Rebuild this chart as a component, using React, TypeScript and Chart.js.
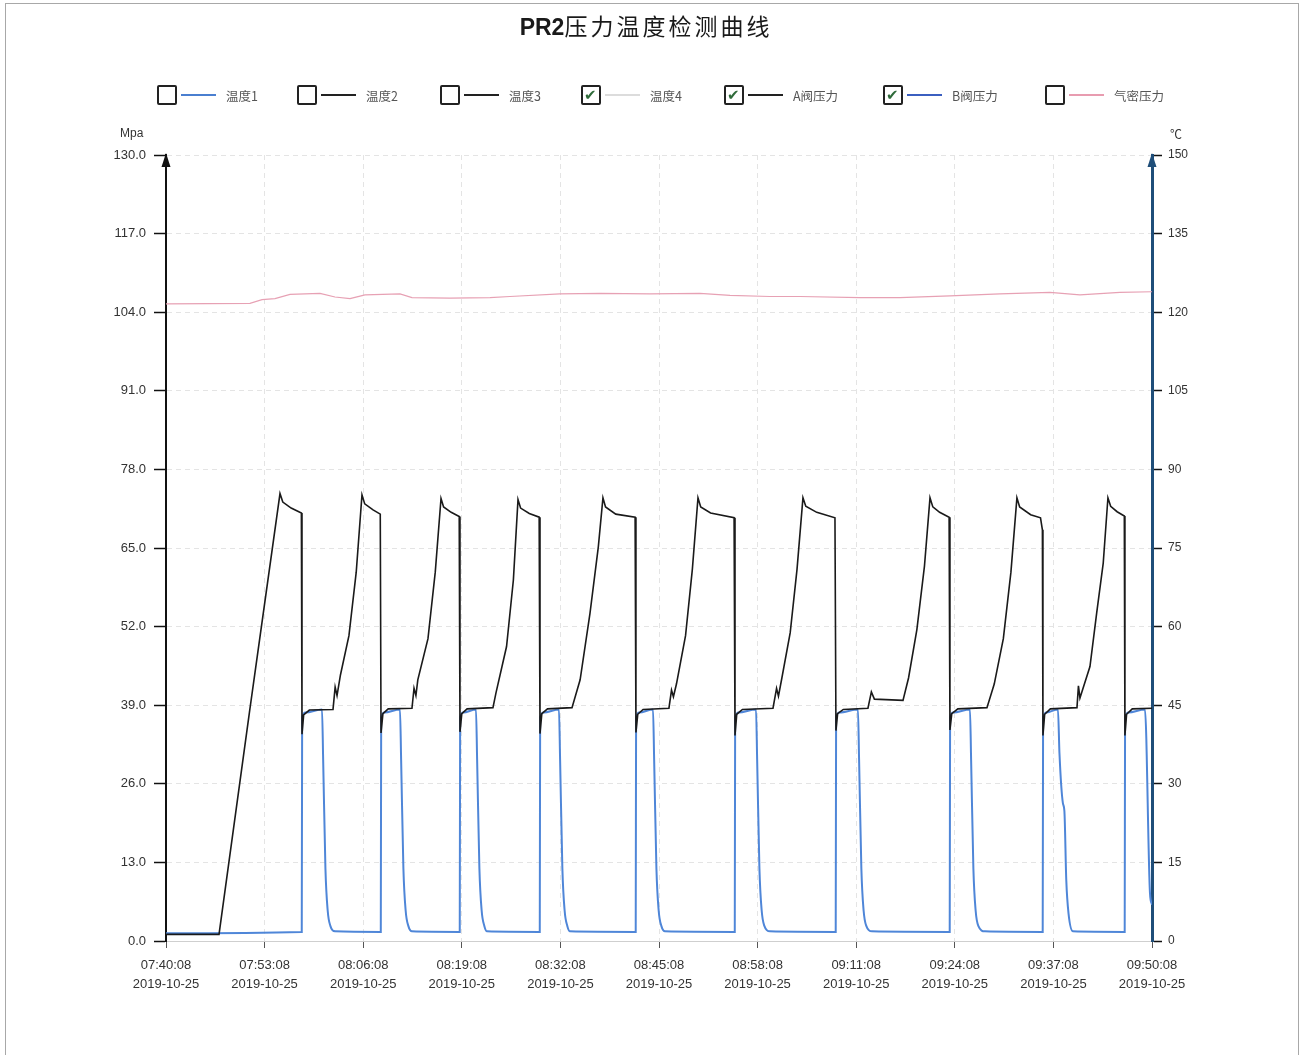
import React, { useEffect, useRef } from "react";
import { Chart, registerables } from "chart.js";

Chart.register(...registerables);

// ---------- DATA ----------
const chartTitle = "PR2压力温度检测曲线";
const startClock = "07:40:08";
const dateLabel = "2019-10-25";
const xMinMinutes = 0;
const xMaxMinutes = 130;
const xStepMinutes = 13;
const leftMin = 0;
const leftMax = 130;
const leftStep = 13;
const rightMin = 0;
const rightMax = 150;
const rightStep = 15;

const legendNames = ["温度1", "温度2", "温度3", "温度4", "A阀压力", "B阀压力", "气密压力"];
const legendChecked = [false, false, false, true, true, true, false];

// A阀压力 (Mpa) — minutes after 07:40:08
const aTime = [
  0.0, 6.99, 11.0, 15.03, 15.4, 16.5, 17.85,
  17.93, 18.15, 18.9, 22.02, 22.3, 22.55, 23.0, 24.12, 25.08, 25.84, 26.2, 27.3, 28.25,
  28.35, 28.6, 29.3, 32.43, 32.7, 32.95, 33.2, 34.54, 35.5, 36.26, 36.6, 37.6, 38.66,
  38.76, 39.0, 39.7, 43.11, 43.5, 44.9, 45.8, 46.41, 46.75, 47.9, 49.2,
  49.31, 49.55, 50.3, 53.53, 54.6, 55.9, 57.0, 57.61, 57.95, 59.3, 61.85,
  61.96, 62.2, 62.9, 66.31, 66.65, 66.9, 67.3, 68.5, 69.4, 70.14, 70.5, 71.8, 74.9,
  75.02, 75.25, 76.0, 80.03, 80.5, 80.75, 81.2, 82.3, 83.2, 83.98, 84.35, 85.8, 88.2,
  88.33, 88.55, 89.3, 92.55, 93.0, 93.4, 97.17, 97.9, 99.0, 100.0, 100.73, 101.1, 102.0, 103.25,
  103.36, 103.6, 104.4, 108.24, 109.2, 110.4, 111.4, 112.19, 112.55, 114.0, 115.3, 115.55,
  115.62, 115.85, 116.6, 120.11, 120.3, 120.5, 121.82, 122.7, 123.57, 124.19, 124.55, 125.4, 126.35,
  126.43, 126.65, 127.4, 130.0,
];
const aPressure = [
  1.1, 1.1, 37.8, 74.0, 72.6, 71.6, 70.8,
  34.2, 37.4, 38.2, 38.3, 42.0, 40.6, 44.0, 50.5, 61.0, 73.8, 72.3, 71.3, 70.6,
  34.4, 37.6, 38.4, 38.5, 41.8, 40.6, 43.2, 50.0, 61.0, 73.2, 71.8, 70.9, 70.2,
  34.6, 37.6, 38.4, 38.6, 41.0, 48.7, 59.7, 73.0, 71.6, 70.7, 70.1,
  34.3, 37.6, 38.4, 38.6, 43.2, 54.2, 65.2, 73.3, 71.8, 70.6, 70.1,
  34.5, 37.5, 38.3, 38.5, 41.5, 40.4, 42.5, 50.5, 61.5, 73.3, 71.8, 70.8, 70.0,
  34.0, 37.5, 38.3, 38.5, 41.8, 40.5, 43.5, 51.0, 61.5, 73.3, 71.9, 70.9, 70.0,
  34.8, 37.6, 38.3, 38.5, 41.2, 40.0, 39.8, 43.5, 51.5, 62.0, 73.3, 71.8, 70.9, 70.1,
  34.9, 37.6, 38.4, 38.6, 42.5, 50.0, 61.0, 73.3, 71.8, 70.5, 70.0, 68.0,
  34.0, 37.5, 38.4, 38.6, 42.2, 40.2, 45.4, 54.2, 62.5, 73.3, 71.9, 71.0, 70.3,
  34.0, 37.5, 38.4, 38.5,
];

// B阀压力 (Mpa)
const bTime = [
  0.0, 17.9, 17.95, 18.4, 20.57, 20.72, 21.02, 21.32, 21.67, 22.28,
  28.32, 28.37, 28.8, 30.85, 31.0, 31.3, 31.6, 31.95, 32.43,
  38.73, 38.78, 39.2, 40.87, 41.02, 41.32, 41.62, 41.97, 42.32,
  49.28, 49.33, 49.8, 51.81, 51.96, 52.26, 52.56, 52.91, 53.26,
  61.93, 61.98, 62.4, 64.21, 64.36, 64.66, 64.96, 65.31, 65.79,
  74.99, 75.04, 75.5, 77.79, 77.94, 78.24, 78.54, 78.89, 79.63,
  88.3, 88.35, 88.8, 91.23, 91.38, 91.68, 91.98, 92.33, 93.08,
  103.33, 103.38, 103.8, 106.0, 106.15, 106.45, 106.75, 107.1, 107.98,
  115.59, 115.64, 116.1, 117.6, 117.8, 118.25, 118.45, 118.7, 119.0, 119.58,
  126.4, 126.45, 126.9, 129.07, 129.73, 130.0,
];
const bPressure = [
  1.3, 1.5, 37.0, 37.8, 38.3, 30.0, 12.0, 5.0, 2.5, 1.6,
  1.5, 37.0, 37.8, 38.3, 30.0, 12.0, 5.0, 2.5, 1.6,
  1.5, 37.0, 37.8, 38.3, 30.0, 12.0, 5.0, 2.5, 1.6,
  1.5, 37.0, 37.8, 38.3, 30.0, 12.0, 5.0, 2.5, 1.6,
  1.5, 37.0, 37.8, 38.3, 30.0, 12.0, 5.0, 2.5, 1.6,
  1.5, 37.0, 37.8, 38.3, 30.0, 12.0, 5.0, 2.5, 1.6,
  1.5, 37.0, 37.8, 38.3, 30.0, 12.0, 5.0, 2.5, 1.6,
  1.5, 37.0, 37.8, 38.3, 30.0, 12.0, 5.0, 2.5, 1.6,
  1.5, 37.0, 37.8, 38.3, 31.0, 22.8, 21.5, 10.0, 4.5, 1.6,
  1.5, 37.0, 37.8, 38.3, 8.0, 6.0,
];

// 温度4 (℃, right axis)
const t4Time = [
  0.0, 11.07, 12.66, 14.37, 16.35, 20.3, 22.28, 24.26, 26.24, 30.85, 32.43, 37.44, 42.72, 45.35,
  51.94, 57.22, 63.81, 70.4, 74.36, 79.63, 83.59, 91.5, 96.77, 103.36, 109.95, 116.55, 120.5,
  125.77, 130.0,
];
const t4Temp = [
  121.6, 121.7, 122.4, 122.6, 123.4, 123.6, 122.9, 122.6, 123.3, 123.5, 122.8, 122.7, 122.8, 123.0,
  123.5, 123.6, 123.5, 123.6, 123.2, 123.0, 123.0, 122.8, 122.8, 123.1, 123.5, 123.8, 123.3,
  123.8, 123.9,
];

// ---------- STYLE ----------
const BLACK = "#1a1a1a";
const BLUE = "#4f86d8";
const PINK = "#e7a1b4";
const NAVY = "#1f4e79";
const legendColors = ["#4a7fd0", "#222", "#222", "#dcdcdc", "#222", "#3b5fc0", "#e89cb0"];
const legendLeft = [157, 297, 440, 581, 724, 883, 1045];

const pairs = (xs: number[], ys: number[]) => xs.map((x, i) => ({ x, y: ys[i] }));

function clockLabel(minutes: number): string {
  const [h, m, s] = startClock.split(":").map(Number);
  let total = Math.round(h * 3600 + m * 60 + s + minutes * 60);
  const hh = Math.floor(total / 3600);
  total -= hh * 3600;
  const mm = Math.floor(total / 60);
  const ss = total - mm * 60;
  const p = (n: number) => String(n).padStart(2, "0");
  return `${p(hh)}:${p(mm)}:${p(ss)}`;
}

const axisArrows = {
  id: "axisArrows",
  afterDraw(chart: any) {
    const { ctx, chartArea } = chart;
    const draw = (x: number, color: string) => {
      ctx.save();
      ctx.fillStyle = color;
      ctx.beginPath();
      ctx.moveTo(x, chartArea.top - 2);
      ctx.lineTo(x - 4.5, chartArea.top + 12);
      ctx.lineTo(x + 4.5, chartArea.top + 12);
      ctx.closePath();
      ctx.fill();
      ctx.restore();
    };
    draw(chartArea.left, "#111");
    draw(chartArea.right, NAVY);
  },
};

export default function App() {
  const canvasRef = useRef<HTMLCanvasElement | null>(null);

  useEffect(() => {
    if (!canvasRef.current) return;
    const tickFont = { family: "'Liberation Sans', Arial, sans-serif", size: 13 };
    const chart = new Chart(canvasRef.current, {
      type: "line",
      data: {
        datasets: [
          {
            label: "A阀压力",
            data: pairs(aTime, aPressure),
            borderColor: BLACK,
            borderWidth: 1.6,
            pointRadius: 0,
            tension: 0,
            yAxisID: "y",
            order: 0,
          },
          {
            label: "B阀压力",
            data: pairs(bTime, bPressure),
            borderColor: BLUE,
            borderWidth: 2,
            pointRadius: 0,
            cubicInterpolationMode: "monotone",
            yAxisID: "y",
            order: 1,
          },
          {
            label: "温度4",
            data: pairs(t4Time, t4Temp),
            borderColor: PINK,
            borderWidth: 1.2,
            pointRadius: 0,
            yAxisID: "y1",
            order: 2,
          },
        ],
      },
      options: {
        responsive: false,
        animation: false,
        events: [],
        layout: { padding: { top: 155, left: 0, right: 0, bottom: 0 } },
        plugins: {
          legend: { display: false },
          title: { display: false },
          tooltip: { enabled: false },
        },
        scales: {
          x: {
            type: "linear",
            min: xMinMinutes,
            max: xMaxMinutes,
            afterFit: (s: any) => {
              s.height = 114;
            },
            ticks: {
              stepSize: xStepMinutes,
              autoSkip: false,
              maxRotation: 0,
              padding: 8,
              color: "#333",
              font: { ...tickFont, lineHeight: 1.45 },
              callback: (v: any) => [clockLabel(Number(v)), dateLabel],
            },
            grid: {
              color: "#e4e4e4",
              lineWidth: 1,
              tickColor: "#555",
              tickLength: 7,
              tickWidth: 1,
            },
            border: { color: "#cfcfcf", width: 1, dash: [5, 4] },
          },
          y: {
            type: "linear",
            position: "left",
            min: leftMin,
            max: leftMax,
            afterFit: (s: any) => {
              s.width = 166;
            },
            ticks: {
              stepSize: leftStep,
              padding: 8,
              color: "#333",
              font: tickFont,
              callback: (v: any) => Number(v).toFixed(1),
            },
            grid: {
              color: "#e4e4e4",
              lineWidth: 1,
              tickColor: "#111",
              tickLength: 12,
              tickWidth: 1.5,
            },
            border: { color: "#111", width: 2, dash: [5, 4] },
          },
          y1: {
            type: "linear",
            position: "right",
            min: rightMin,
            max: rightMax,
            afterFit: (s: any) => {
              s.width = 150;
            },
            ticks: {
              stepSize: rightStep,
              padding: 6,
              color: "#333",
              font: { ...tickFont, size: 12 },
              callback: (v: any) => String(v),
            },
            grid: {
              drawOnChartArea: false,
              color: "#111",
              tickColor: "#111",
              tickLength: 10,
              tickWidth: 1.5,
            },
            border: { color: NAVY, width: 3 },
          },
        },
      },
      plugins: [axisArrows],
    } as any);
    return () => chart.destroy();
  }, []);

  const cjk = "'Noto Sans CJK SC', 'Liberation Sans', sans-serif";

  return (
    <div
      style={{
        position: "absolute",
        left: 0,
        top: 0,
        width: 1302,
        height: 1055,
        background: "#fff",
        overflow: "hidden",
      }}
    >
      <div
        style={{
          position: "absolute",
          left: 5,
          top: 3,
          width: 1294,
          height: 1100,
          border: "1px solid #a8a8a8",
          boxSizing: "border-box",
        }}
      />
      <canvas ref={canvasRef} width={1302} height={1055} style={{ position: "absolute", left: 0, top: 0 }} />
      <div
        style={{
          position: "absolute",
          left: 0,
          width: 1292,
          top: 9,
          textAlign: "center",
          fontFamily: cjk,
          fontSize: 23,
          color: "#1a1a1a",
          letterSpacing: 3,
          lineHeight: "32px",
        }}
      >
        <span style={{ fontFamily: "'Liberation Sans', Arial, sans-serif", fontWeight: "bold", letterSpacing: 0 }}>
          {chartTitle.slice(0, 3)}
        </span>
        {chartTitle.slice(3)}
      </div>
      {legendNames.map((name, i) => (
        <div
          key={name}
          style={{
            position: "absolute",
            left: legendLeft[i],
            top: 85,
            height: 20,
            display: "flex",
            alignItems: "center",
            whiteSpace: "nowrap",
          }}
        >
          <div
            style={{
              width: 20,
              height: 20,
              border: "2px solid #222",
              borderRadius: 2,
              boxSizing: "border-box",
              position: "relative",
              background: "#fff",
            }}
          >
            {legendChecked[i] ? (
              <span
                style={{
                  position: "absolute",
                  left: 1,
                  top: -2,
                  fontSize: 15,
                  color: "#2f6b3a",
                  fontFamily: "'DejaVu Sans', sans-serif",
                  lineHeight: "20px",
                }}
              >
                ✔
              </span>
            ) : null}
          </div>
          <div style={{ width: 35, height: 0, borderTop: `2px solid ${legendColors[i]}`, marginLeft: 4 }} />
          <span style={{ marginLeft: 10, fontSize: 12.5, color: "#555", fontFamily: cjk }}>{name}</span>
        </div>
      ))}
      <div
        style={{
          position: "absolute",
          left: 120,
          top: 126,
          fontSize: 12,
          color: "#333",
          fontFamily: "'Liberation Sans', Arial, sans-serif",
        }}
      >
        Mpa
      </div>
      <div
        style={{
          position: "absolute",
          left: 1170,
          top: 125,
          fontSize: 12,
          color: "#333",
          fontFamily: cjk,
        }}
      >
        ℃
      </div>
    </div>
  );
}
